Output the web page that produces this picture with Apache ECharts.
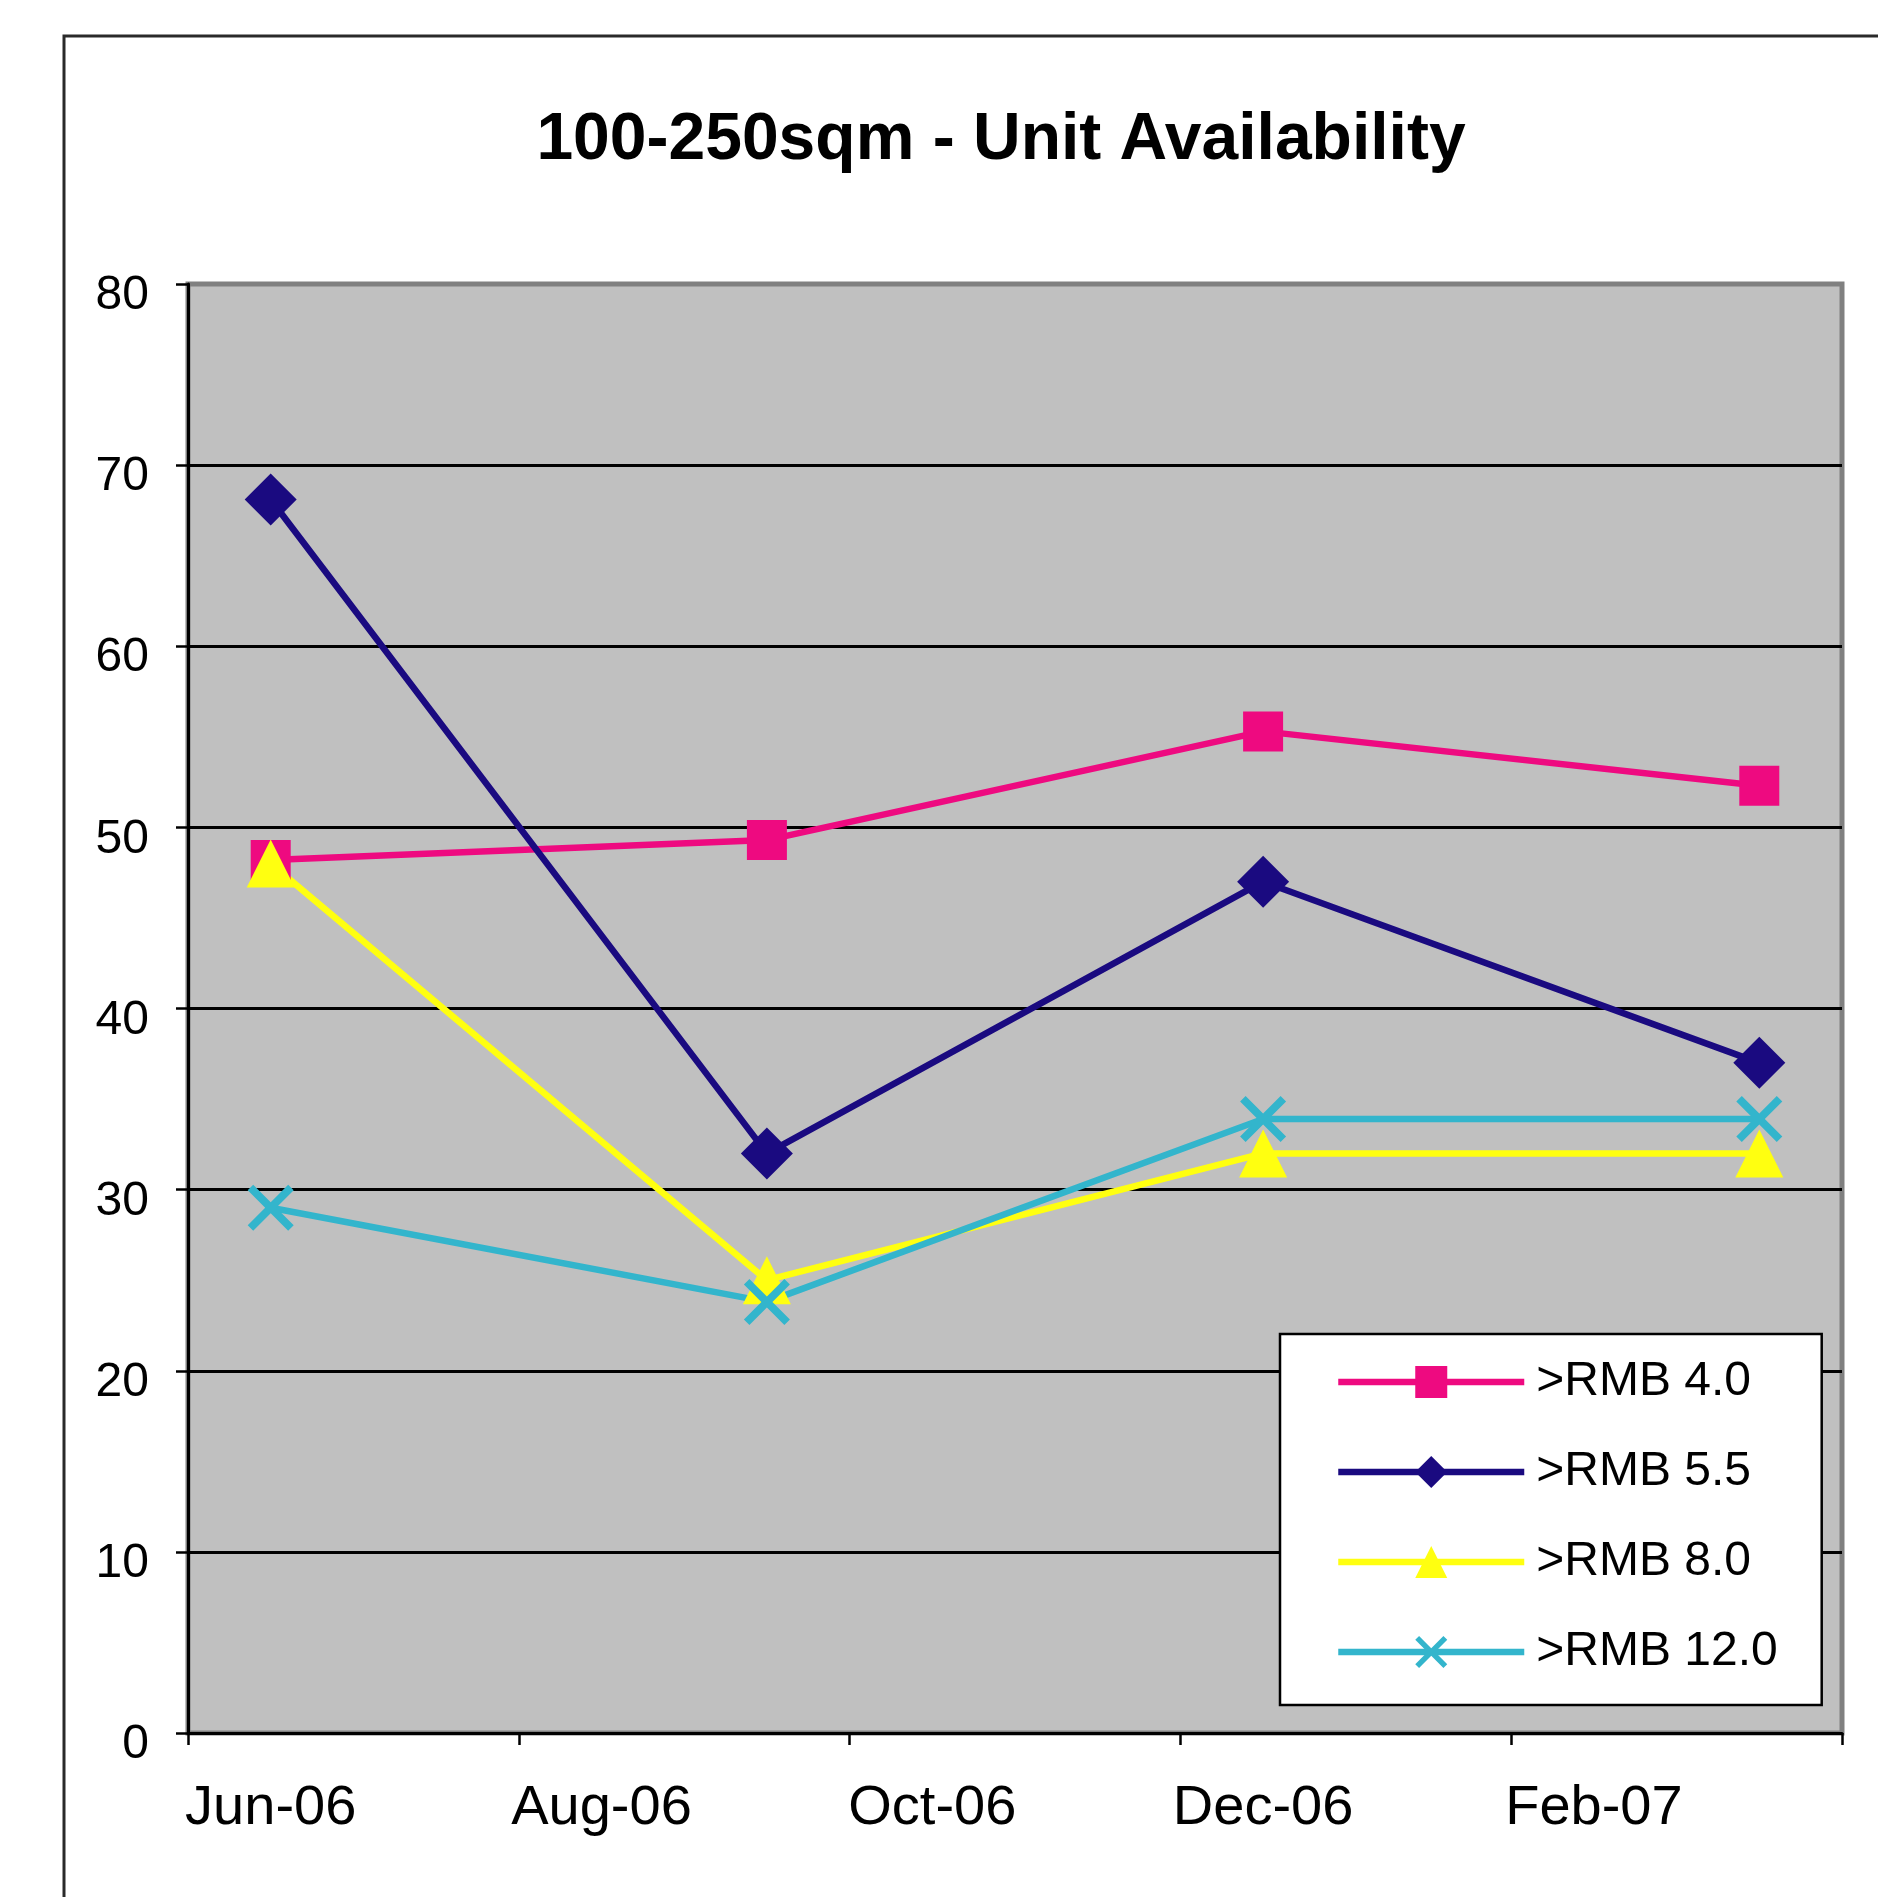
<!DOCTYPE html>
<html>
<head>
<meta charset="utf-8">
<script src="https://cdn.jsdelivr.net/npm/echarts@6/dist/echarts.min.js"></script>
<style>html,body{margin:0;padding:0;background:#fff;}#c{width:1878px;height:1897px;}</style>
</head>
<body>
<div id="c"></div>
<script>
// ---- data ----
const chartTitle = '100-250sqm - Unit Availability';
const axisMonths = ['Jun-06','Jul-06','Aug-06','Sep-06','Oct-06','Nov-06','Dec-06','Jan-07','Feb-07','Mar-07'];
const pointMonths = ['Jun-06','Sep-06','Dec-06','Mar-07'];
const seriesNames = ['>RMB 4.0','>RMB 5.5','>RMB 8.0','>RMB 12.0'];
const rmb40 = [48.2, 49.3, 55.3, 52.3];
const rmb55 = [68.1, 32.0, 47.0, 37.0];
const rmb80 = [48.0, 25.0, 32.0, 32.0];
const rmb120 = [29.0, 23.8, 33.9, 33.9];
const yMin = 0, yMax = 80, yStep = 10;

// ---- styles ----
const FONT = '"Liberation Sans", Arial, Helvetica, sans-serif';
const xSym = 'path://M0,1.2L1.2,0L5,3.8L8.8,0L10,1.2L6.2,5L10,8.8L8.8,10L5,6.2L1.2,10L0,8.8L3.8,5Z';
const looks = [
  {color:'#EE0A80', symbol:'rect', size:40},
  {color:'#1A0A80', symbol:'diamond', size:52},
  {color:'#FFFF10', symbol:'triangle', size:48},
  {color:'#33B5CC', symbol:xSym, size:46}
];
const allValues = [rmb40, rmb55, rmb80, rmb120];

const chart = echarts.init(document.getElementById('c'), null, {renderer:'canvas', width:1878, height:1897});
chart.setOption({
  animation:false,
  backgroundColor:'#fff',
  title:{
    text: chartTitle, left:996, top:103, textAlign:'center',
    textStyle:{fontFamily:FONT, fontWeight:'bold', fontSize:66, color:'#000'}
  },
  graphic:[{
    type:'rect', silent:true, z:100,
    shape:{x:64, y:36, width:1900, height:1900},
    style:{fill:'none', stroke:'#2a2a2a', lineWidth:3}
  }],
  grid:{
    left:188, right:36, top:284, bottom:164, containLabel:false,
    show:true, backgroundColor:'#C0C0C0', borderColor:'#808080', borderWidth:5
  },
  legend:{
    orient:'vertical', left:1280, top:1334, align:'left',
    padding:[11,44,16,55], itemGap:16, itemWidth:186, itemHeight:40,
    backgroundColor:'#fff', borderColor:'#000', borderWidth:2.5,
    selectedMode:false,
    textStyle:{fontFamily:FONT, fontSize:48, color:'#000', lineHeight:50, padding:[24,0,0,7]},
    lineStyle:{width:'inherit'},
    data: seriesNames
  },
  xAxis:{
    type:'category', data: axisMonths, boundaryGap:true,
    axisLine:{show:true, lineStyle:{color:'#000', width:3}},
    axisTick:{show:true, interval:1, length:12, lineStyle:{color:'#000', width:2.5}},
    axisLabel:{interval:1, margin:48, fontFamily:FONT, fontSize:56, color:'#000'},
    splitLine:{show:false}
  },
  yAxis:{
    type:'value', min:yMin, max:yMax, interval:yStep,
    axisLine:{show:true, lineStyle:{color:'#000', width:3}},
    axisTick:{show:true, length:12, lineStyle:{color:'#000', width:2.5}},
    axisLabel:{margin:39, fontFamily:FONT, fontSize:48, color:'#000', verticalAlign:'top', lineHeight:24},
    splitLine:{show:true, showMaxLine:false, lineStyle:{color:'#000', width:3}}
  },
  series: allValues.map((vals, i) => ({
    name: seriesNames[i], type:'line',
    data: pointMonths.map((m, j) => [m, vals[j]]),
    symbol: looks[i].symbol, symbolSize: looks[i].size, showAllSymbol:true,
    lineStyle:{color:looks[i].color, width:6.5},
    itemStyle:{color:looks[i].color, borderWidth:0},
    emphasis:{disabled:true}
  }))
});
</script>
</body>
</html>
